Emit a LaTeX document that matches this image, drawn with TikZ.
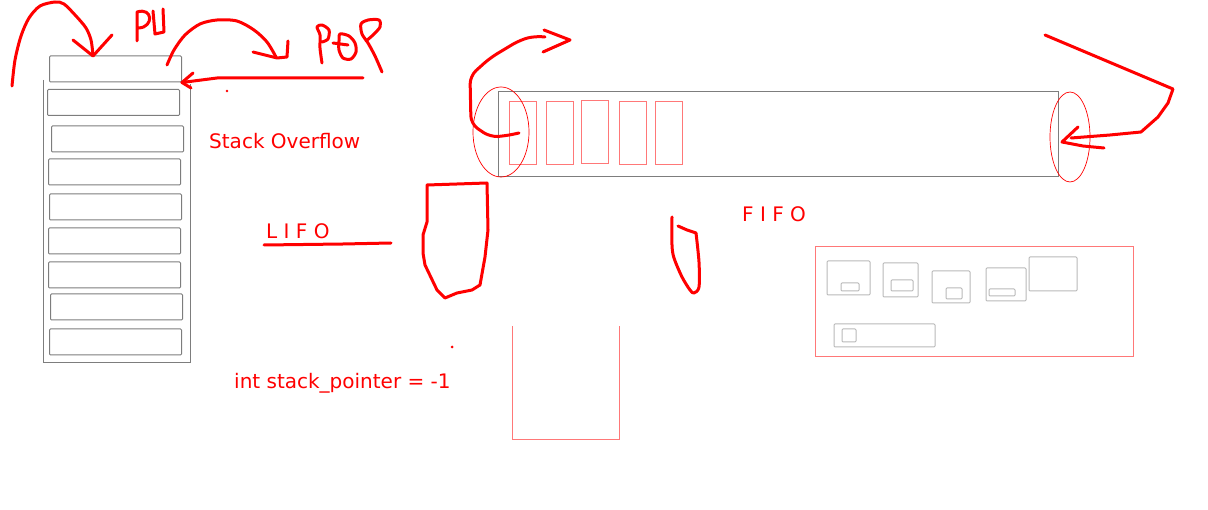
\documentclass[tikz,border=0pt]{standalone}
\usepackage{fontspec}
\setmainfont{DejaVu Sans}
\usepackage{xcolor}
\definecolor{pen}{RGB}{255,0,0}
\definecolor{lightpen}{RGB}{255,120,120}
\definecolor{framegray}{RGB}{125,125,125}
\definecolor{softgray}{RGB}{185,185,185}

\begin{document}
\begin{tikzpicture}[
    x=1pt, y=-1pt,
    marker/.style={draw=pen, line width=3pt, line cap=round, line join=round},
    thinmarker/.style={draw=lightpen, line width=1pt},
    stackslot/.style={draw=framegray, rounded corners=1pt, line width=1pt, minimum width=132pt, minimum height=26pt, inner sep=0pt},
    queueslot/.style={draw=lightpen, line width=1pt, minimum width=27pt, minimum height=63pt, inner sep=0pt},
    note/.style={text=pen, font=\fontsize{20}{24}\selectfont, inner sep=0pt, anchor=base west}
    ]
\useasboundingbox (0,0) rectangle (1208,510);

% stack
\draw[framegray, line width=1pt] (43,80) -- (43,363) -- (190,363) -- (190,84);
\foreach \x/\y [count=\i] in {115.5/69, 113.5/102.5, 117.5/139, 114.5/172, 115.5/207, 114.5/241, 114.5/275, 116.5/307, 115.5/342}
    \node[stackslot] (slot\i) at (\x,\y) {};

% push
\draw[marker] plot[smooth] coordinates {(12,86) (15,60) (21,36) (29,18) (40,6) (55,2) (64,4) (76,16) (86,28) (91,40) (93,55)};
\draw[marker] (73,40) -- (93,56) -- (112,35);
\draw[marker] (137,41) -- (137,12) .. controls (153,7) and (154,27) .. (139,28);
\draw[marker] (153,11) -- (155,34) -- (164,32) -- (163,9);

% pop
\draw[marker] plot[smooth] coordinates {(167,65) (174,50) (185,35) (200,24) (217,20) (237,21) (254,30) (267,42) (276,57)};
\draw[marker] (253,52) -- (277,58) -- (287,57) -- (288,41);
\draw[marker] plot[smooth] coordinates {(322,63) (320,48) (320,35) (317,27) (322,25) (329,30) (328,39) (322,42)};
\draw[marker] plot[smooth cycle] coordinates {(340,34) (349,36) (355,43) (356,52) (351,59) (343,58) (339,50) (339,41)};
\draw[marker] (333,43) -- (348,45);
\draw[marker] plot[smooth] coordinates {(382,72) (375,56) (368,43) (362,34) (361,24) (368,20) (379,20) (380,27) (373,35) (366,41)};

\coordinate (popstart) at (363,78);
\draw[marker] (popstart) -- (217,78) -- (slot1.south east);
\draw[marker] (193,73) -- (slot1.south east) -- (191,88);
\fill[pen] (227,91) circle (1.3);

% stack texts
\node[note] (overflow) at (209,149) {Stack Overflow};
\node[note] (lifo) at (266,239) {L I F O};
\draw[marker] (264,245) -- (343,244) -- (391,243);
\node[note] (pointer) at (234,389) {int stack\_pointer = -1};
\fill[pen] (452,347) circle (1.5);

% freehand marks
\draw[marker] (427,185) -- (487,183) -- (488,230) -- (485,257) -- (480,285) -- (472,290) -- (457,293) -- (445,298) -- (437,290) -- (425,265) -- (423,253) -- (423,235) -- (427,222) -- cycle;
\draw[marker] plot[smooth] coordinates {(672,217) (672,245) (674,258) (682,277) (690,290) (694,293) (699,287) (699,262) (696,233)};
\draw[marker] (696,233) -- (687,230) -- (678,226);

% queue
\node[draw=framegray, line width=1pt, minimum width=560pt, minimum height=85pt, inner sep=0pt] (tube) at (778,134.5) {};
\foreach \x/\y [count=\i] in {522.5/133.5, 559.5/133.5, 594.5/132.5, 632.5/133.5, 668.5/133.5}
    \node[queueslot] (cell\i) at (\x,\y) {};
\draw[pen, line width=0.7pt] (501,132) ellipse [x radius=28, y radius=45];
\draw[pen, line width=0.7pt] (1070,137) ellipse [x radius=20, y radius=45];

\draw[marker, rounded corners=8pt] (519,133) -- (505,136) -- (490,137) -- (471,124) -- (470,76) -- (490,58) -- (520,40) -- (535,36) -- (545,37);
\draw[marker] (544,30) -- (570,40) -- (543,52);
\draw[marker] (1045,35) -- (1173,89) -- (1168,103) -- (1158,117) -- (1141,132) -- (1110,135) -- (1071,138);
\draw[marker] (1078,127) -- (1062,142) -- (1083,146) -- (1104,148);
\node[note] (fifo) at (742,222) {F I F O};

% open box
\draw[thinmarker] (512,326) -- (512,440) -- (619,440) -- (619,326);

% panel
\draw[thinmarker] (815,247) rectangle (1133,357);
\foreach \a/\b/\c/\d in {827/261/870/295, 841/283/859/291, 883/263/918/297, 891/280/913/291, 932/271/970/303, 946/288/962/299, 986/268/1026/301, 989/289/1015/296, 1029/257/1077/291, 834/324/935/347, 842/329/856/342}
    \draw[softgray, line width=1pt, rounded corners=1pt] (\a,\b) rectangle (\c,\d);
\end{tikzpicture}
\end{document}
